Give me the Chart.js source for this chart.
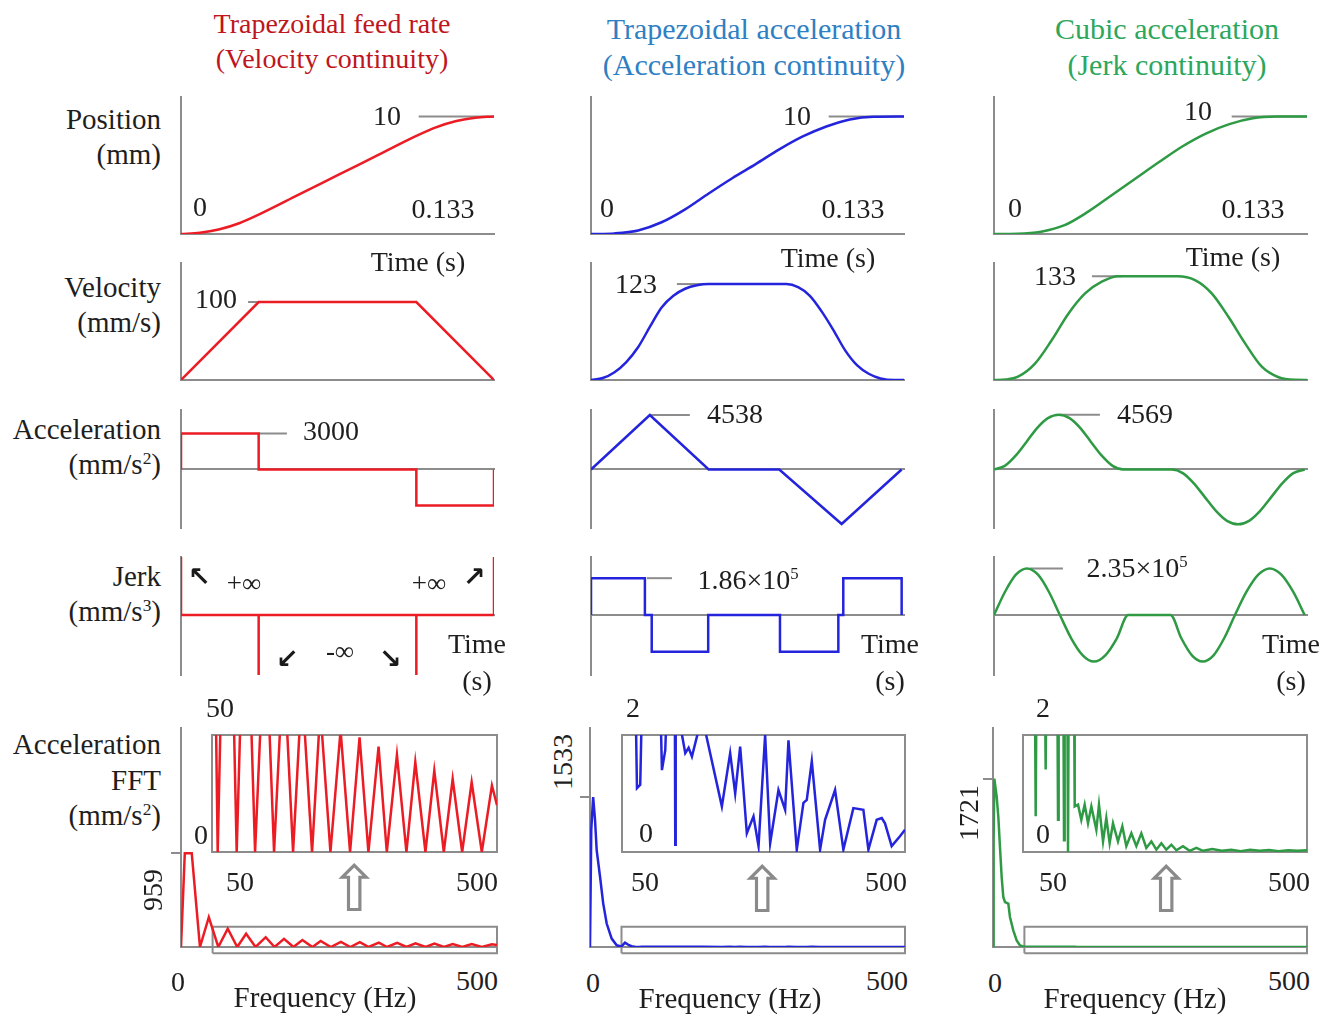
<!DOCTYPE html>
<html>
<head>
<meta charset="utf-8">
<title>Feed rate profiles</title>
<script src="https://cdn.jsdelivr.net/npm/chart.js@4.4.1/dist/chart.umd.min.js"></script>
<style>
  html, body { margin:0; padding:0; background:#ffffff; }
  #stage { position:relative; width:1334px; height:1015px; overflow:hidden; font-family:"Liberation Serif","Times New Roman",serif; color:#1e1e1e; }
  #stage canvas { position:absolute; }
  .lbl { position:absolute; white-space:nowrap; line-height:1; font-size:28px; }
  .sup { font-size:0.6em; position:relative; top:-0.6em; }
  .sym { font-family:"DejaVu Sans", sans-serif; }
  .bold { font-weight:bold; }
</style>
</head>
<body>
<div id="stage"></div>
<script>
// ================= DATA =================
const T_END = 0.133;                 // s
const posMax = 10;                   // mm
const velPeak = [100, 123, 133];     // mm/s
const accPeak = [3000, 4538, 4569];  // mm/s^2
const jerkPeak = [null, 186000, 235000];
const fftPeak = [959, 1533, 1721];
const insetMax = [50, 2, 2];
const fftRange = [0, 500];
const insetRange = [50, 500];
const zoomBoxF = [50, 500];
const zoomBoxA = [-64, 208];

// leader-line spans (time, s)
const posLeadT = [0.101, 0.133];
const velLeadT = [[0.0285, 0.033], [0.0365, 0.0476], [0.0416, 0.0544]];
const accLeadT = [[0.033, 0.045], [0.025, 0.042], [0.028, 0.045]];
const jerkLeadT = [null, [0.0238, 0.0344], [0.0153, 0.0293]];

// ---- Trapezoidal feed rate (red)
const redPosT = [0, 0.008, 0.016, 0.025, 0.033, 0.05, 0.067, 0.083, 0.1, 0.108, 0.117, 0.125, 0.133];
const redPosV = [0, 0.1, 0.38, 0.94, 1.65, 3.35, 5.05, 6.65, 8.35, 9.06, 9.62, 9.9, 10];
const redVelT = [0, 0.033, 0.1, 0.133];
const redVelV = [0, 100, 100, 0];
const redAccT = [0, 0, 0.033, 0.033, 0.1, 0.1, 0.133, 0.133];
const redAccV = [0, 3000, 3000, 0, 0, -3000, -3000, 0];
const JERK_INF = 1e7; // off-scale (infinite) jerk spikes
const redJerkT = [0, 0, 0.033, 0.033, 0.033, 0.1, 0.1, 0.1, 0.133, 0.133];
const redJerkV = [JERK_INF, 0, 0, -JERK_INF, 0, 0, -JERK_INF, 0, 0, JERK_INF];
const redFftF = [0, 6, 17, 30, 44, 59, 74, 89, 103, 118, 134, 148, 163, 178, 192, 208, 221, 237, 253, 268, 283, 297, 313, 326, 342, 357, 371, 387, 401, 416, 430, 445, 460, 476, 492, 500];
const redFftA = [0, 959, 959, 0, 305, 0, 187, 0, 135, 0, 100, 0, 83, 0, 71, 0, 61, 0, 52, 0, 49, 0, 45, 0, 41.5, 0, 38.4, 0, 34.8, 0, 31.2, 0, 29.8, 0, 28.4, 20];

// ---- Trapezoidal acceleration (blue)
const bluePosT = [0, 0.01, 0.02, 0.03, 0.04, 0.05, 0.06, 0.07, 0.08, 0.09, 0.1, 0.11, 0.12, 0.133];
const bluePosV = [0, 0.05, 0.3, 1.0, 2.1, 3.45, 4.75, 5.95, 7.2, 8.3, 9.15, 9.75, 9.98, 10];
const blueVelT = [0, 0.005, 0.01, 0.015, 0.02, 0.025, 0.03, 0.035, 0.04, 0.045, 0.05, 0.083, 0.088, 0.093, 0.098, 0.103, 0.108, 0.113, 0.118, 0.123, 0.129, 0.133];
const blueVelV = [0, 2.5, 10, 23, 42, 68, 93, 108, 117, 121.5, 123, 123, 119, 108, 88, 64, 38, 19, 8, 2, 0, 0];
const blueAccT = [0, 0.025, 0.05, 0.08, 0.1065, 0.132];
const blueAccV = [0, 4538, 0, 0, -4538, 0];
const blueJerkT = [0, 0, 0.0229, 0.0229, 0.0258, 0.0258, 0.0498, 0.0498, 0.0803, 0.0803, 0.1051, 0.1051, 0.1072, 0.1072, 0.132, 0.132];
const blueJerkV = [0, 186000, 186000, 0, 0, -186000, -186000, 0, 0, -186000, -186000, 0, 0, 186000, 186000, 0];
const blueFftF = [0, 2, 5, 8, 10.6, 16, 21, 26.5, 34.4, 42.4, 50, 55.6, 62, 66, 71, 73.8, 79, 81.8, 110.9, 113.5, 118.8, 121.5, 134, 134.7, 135.4, 150.6, 155.9, 161.2, 174.4, 179.7, 208.8, 222, 230, 237.9, 248.5, 259.1, 267.1, 277.6, 285.6, 298.8, 309.4, 314.7, 327.9, 338.5, 343.8, 351.8, 365, 372.9, 388.8, 402, 417.9, 433.8, 441.8, 455, 463, 468.2, 478.8, 492, 500];
const blueFftA = [0, 1200, 1533, 1297, 990, 716, 444, 240, 86, 17, 6, 45, 18, 8, 3, 1.09, 1.15, 2.6, 2.6, 1.4, 1.74, 2.6, 2.6, 0.125, 2.6, 1.69, 1.78, 1.63, 2.2, 2.2, 0.78, 1.69, 1.0, 1.8, 0.32, 0.61, 0.1, 2.0, 0.15, 1.06, 0.72, 1.91, 0.04, 0.84, 0.89, 1.55, 0.04, 0.55, 1.06, 0.04, 0.75, 0.72, 0.04, 0.55, 0.58, 0.49, 0.1, 0.27, 0.38];

// ---- Cubic acceleration (green)
const greenPosT = [0, 0.01, 0.02, 0.03, 0.04, 0.05, 0.06, 0.07, 0.08, 0.09, 0.1, 0.11, 0.12, 0.133];
const greenPosV = [0, 0.02, 0.2, 0.75, 1.9, 3.3, 4.7, 6.1, 7.45, 8.55, 9.35, 9.85, 9.99, 10];
const greenVelT = [0, 0.005, 0.0102, 0.0174, 0.0245, 0.0316, 0.0387, 0.0458, 0.0528, 0.078, 0.0854, 0.0925, 0.0996, 0.1067, 0.1138, 0.1209, 0.128, 0.133];
const greenVelV = [0, 0.6, 4.2, 21, 51, 85, 111, 126, 133, 133, 128, 111, 81, 47, 17, 3.5, 0.2, 0];
const greenAccT = [0, 0.0046, 0.0092, 0.0138, 0.0183, 0.0229, 0.0275, 0.0321, 0.0367, 0.0412, 0.0458, 0.0504, 0.055, 0.0755, 0.0802, 0.0849, 0.0896, 0.0943, 0.099, 0.1037, 0.1084, 0.1131, 0.1178, 0.1225, 0.1272, 0.132];
const greenAccV = [0, 300, 1150, 2300, 3450, 4280, 4569, 4280, 3450, 2300, 1150, 300, 0, 0, -300, -1150, -2300, -3450, -4280, -4569, -4280, -3450, -2300, -1150, -300, 0];
const greenJerkT = [0, 0.0047, 0.0093, 0.014, 0.0187, 0.0233, 0.028, 0.0328, 0.0377, 0.0425, 0.0473, 0.0522, 0.057, 0.075, 0.0796, 0.0841, 0.0887, 0.0933, 0.0978, 0.1024, 0.1073, 0.1123, 0.1172, 0.1221, 0.1271, 0.132];
const greenJerkV = [0, 117500, 203500, 235000, 203500, 117500, 0, -117500, -203500, -235000, -203500, -117500, 0, 0, -117500, -203500, -235000, -203500, -117500, 0, 117500, 203500, 235000, 203500, 117500, 0];
const greenFftF = [0, 1, 2.1, 5.9, 8.5, 11.1, 13.8, 16.4, 19.1, 24.4, 27, 32.3, 37.7, 43, 48.3, 60, 69, 70.1, 71.2, 85, 85.9, 86.8, 104.5, 105.5, 106.5, 114, 115, 116, 120.3, 121.3, 122.3, 131, 131.9, 137.2, 142.4, 147.7, 153, 158.3, 166.2, 170.4, 176.8, 182, 187.3, 192.6, 200.5, 207.4, 213.7, 221.7, 229.6, 237.5, 245.4, 253.4, 261.3, 269.2, 277.1, 285.1, 293, 303.5, 314.1, 324.7, 335.2, 350, 365, 380, 395, 410, 425, 440, 455, 470, 485, 500];
const greenFftA = [0, 1100, 1721, 1535, 1330, 1023, 716, 512, 460, 443, 307, 171, 68, 17, 5, 3, 2.6, 0.61, 2.6, 2.6, 1.41, 2.6, 2.6, 0.55, 2.6, 2.6, 0.2, 2.6, 2.6, 0, 2.6, 2.6, 0.78, 0.81, 0.55, 0.81, 0.49, 0.78, 0.38, 0.81, 0.18, 0.58, 0.15, 0.49, 0.18, 0.44, 0.1, 0.32, 0.1, 0.32, 0.07, 0.18, 0.04, 0.15, 0.04, 0.125, 0.03, 0.1, 0.02, 0.07, 0.02, 0.05, 0.02, 0.04, 0.015, 0.04, 0.02, 0.035, 0.015, 0.03, 0.02, 0.03];

// ================= STYLE / LAYOUT =================
const AXIS = '#8c8c8c';
const LINE = ['#ec1c24', '#2424dc', '#2f9a44'];
const TITLE = ['#bf1520', '#2e80c3', '#2ca75c'];
const LW = 2.5;
const PAD = 12;
const stage = document.getElementById('stage');

const colX = [181, 591, 994];
const colW = 313;
const rows = {
  pos:  {t: 97,  h: 137, min: 0, max: 11.66, zero: false},
  vel:  {t: 263, h: 117, min: 0, max: 150, zero: false},
  acc:  {t: 410, h: 118, min: -4875, max: 4958, zero: true},
  jerk: {t: 557, h: 118, min: -303000, max: 293000, zero: true}
};
const fftArea = [{l:181, w:316}, {l:590, w:315}, {l:993, w:314}];
const fftRow = {t: 728, h: 219, max: 2240};
const insetArea = [{l:212, w:285}, {l:622, w:283}, {l:1023, w:284}];
const insetRow = {t: 735, h: 117};

const series = [
  {pos:[redPosT, redPosV], vel:[redVelT, redVelV], acc:[redAccT, redAccV], jerk:[redJerkT, redJerkV], fft:[redFftF, redFftA], smooth:{pos:true, vel:false, acc:false, jerk:false}},
  {pos:[bluePosT, bluePosV], vel:[blueVelT, blueVelV], acc:[blueAccT, blueAccV], jerk:[blueJerkT, blueJerkV], fft:[blueFftF, blueFftA], smooth:{pos:true, vel:true, acc:false, jerk:false}},
  {pos:[greenPosT, greenPosV], vel:[greenVelT, greenVelV], acc:[greenAccT, greenAccV], jerk:[greenJerkT, greenJerkV], fft:[greenFftF, greenFftA], smooth:{pos:true, vel:true, acc:true, jerk:true}}
];

// ================= HELPERS =================
function xy(T, V) { return T.map((t, i) => ({x: t, y: V[i]})); }
function curve(T, V, color, smooth) {
  return {data: xy(T, V), borderColor: color, borderWidth: LW, pointRadius: 0, fill: false, tension: 0,
          cubicInterpolationMode: smooth ? 'monotone' : 'default', order: 0};
}
function guide(T, V, extra) {
  return Object.assign({data: xy(T, V), borderColor: AXIS, borderWidth: 2, pointRadius: 0, fill: false, tension: 0, order: 1}, extra || {});
}
function ax(extra) {
  return Object.assign({type: 'linear', ticks: {display: false}, grid: {display: false, drawTicks: false},
                        border: {display: true, color: AXIS, width: 2}}, extra);
}
function chartAt(area, datasets, scales, padLeft) {
  const cv = document.createElement('canvas');
  const W = area.w + 2 * PAD, H = area.h + 2 * PAD;
  cv.width = W; cv.height = H;
  Object.assign(cv.style, {left: (area.l - PAD) + 'px', top: (area.t - PAD) + 'px', width: W + 'px', height: H + 'px'});
  stage.appendChild(cv);
  return new Chart(cv, {
    type: 'line',
    data: {datasets},
    options: {
      responsive: false, animation: false, devicePixelRatio: 1, events: [],
      layout: {padding: {left: padLeft == null ? PAD : padLeft, right: PAD, top: PAD, bottom: PAD}},
      plugins: {legend: {display: false}, tooltip: {enabled: false}},
      scales
    }
  });
}
function label(html, x, y, o) {
  o = o || {};
  const d = document.createElement('div');
  d.className = 'lbl' + (o.cls ? ' ' + o.cls : '');
  d.innerHTML = html;
  d.style.left = x + 'px'; d.style.top = y + 'px';
  const axp = o.align === 'right' ? '-100%' : (o.align === 'left' ? '0' : '-50%');
  let tr = 'translate(' + axp + ',-50%)';
  if (o.rot) tr += ' rotate(' + o.rot + 'deg)';
  if (o.sx) tr += ' scaleX(' + o.sx + ')';
  d.style.transform = tr;
  if (o.size) d.style.fontSize = o.size + 'px';
  if (o.color) d.style.color = o.color;
  stage.appendChild(d);
}
const sci = v => (v / 1e5).toFixed(2) + '×10<span class="sup">5</span>';

// ================= TIME-DOMAIN PANELS =================
['pos', 'vel', 'acc', 'jerk'].forEach(key => {
  const r = rows[key];
  for (let c = 0; c < 3; c++) {
    const s = series[c];
    const ds = [curve(s[key][0], s[key][1], LINE[c], s.smooth[key])];
    if (key === 'pos') ds.push(guide(posLeadT, [posMax, posMax]));
    if (key === 'vel') ds.push(guide(velLeadT[c], [velPeak[c], velPeak[c]]));
    if (key === 'acc') ds.push(guide(accLeadT[c], [accPeak[c], accPeak[c]]));
    if (key === 'jerk' && jerkLeadT[c]) ds.push(guide(jerkLeadT[c], [jerkPeak[c], jerkPeak[c]]));
    chartAt({l: colX[c], t: r.t, w: colW, h: r.h}, ds, {
      x: ax({min: 0, max: T_END, position: r.zero ? {y: 0} : 'bottom'}),
      y: ax({min: r.min, max: r.max, position: 'left'})
    });
  }
});

// ================= FFT PANELS =================
for (let c = 0; c < 3; c++) {
  const s = series[c];
  const box = guide([zoomBoxF[0], zoomBoxF[1], zoomBoxF[1], zoomBoxF[0], zoomBoxF[0]],
                    [zoomBoxA[0], zoomBoxA[0], zoomBoxA[1], zoomBoxA[1], zoomBoxA[0]], {clip: false, order: 2});
  const peak = fftPeak[c];
  chartAt({l: fftArea[c].l, t: fftRow.t, w: fftArea[c].w, h: fftRow.h},
    [curve(s.fft[0], s.fft[1], LINE[c], false), box], {
      x: ax({min: fftRange[0], max: fftRange[1], position: 'bottom'}),
      y: ax({min: 0, max: fftRow.max, position: 'left',
             grid: {display: true, drawOnChartArea: false, drawTicks: true, tickLength: 10, color: AXIS, lineWidth: 2},
             afterBuildTicks: sc => { sc.ticks = [{value: peak}]; }})
    }, PAD - 10);
  // zoomed inset
  chartAt({l: insetArea[c].l, t: insetRow.t, w: insetArea[c].w, h: insetRow.h},
    [curve(s.fft[0], s.fft[1], LINE[c], false)], {
      x: ax({min: insetRange[0], max: insetRange[1], position: 'bottom'}),
      xTop: ax({min: insetRange[0], max: insetRange[1], position: 'top'}),
      y: ax({min: 0, max: insetMax[c], position: 'left'}),
      yRight: ax({min: 0, max: insetMax[c], position: 'right'})
    });
}

// ================= TEXT =================
// column titles
label('Trapezoidal feed rate', 332, 24, {size: 28, color: TITLE[0]});
label('(Velocity continuity)', 332, 59, {size: 28, color: TITLE[0]});
label('Trapezoidal acceleration', 754, 29, {size: 30, color: TITLE[1]});
label('(Acceleration continuity)', 754, 65, {size: 30, color: TITLE[1]});
label('Cubic acceleration', 1167, 29, {size: 30, color: TITLE[2]});
label('(Jerk continuity)', 1167, 65, {size: 30, color: TITLE[2]});

// row labels
const RL = 161;
[['Position', 119], ['(mm)', 154], ['Velocity', 287], ['(mm/s)', 322],
 ['Acceleration', 429], ['(mm/s<span class="sup">2</span>)', 464],
 ['Jerk', 576], ['(mm/s<span class="sup">3</span>)', 611],
 ['Acceleration', 744], ['FFT', 780], ['(mm/s<span class="sup">2</span>)', 815]]
  .forEach(([t, y]) => label(t, RL, y, {align: 'right', size: 29}));

// position row
const posLbl = [[387,116,200,207,443,209,418,262],[797,116,607,208,853,209,828,258],[1198,111,1015,208,1253,209,1233,257]];
posLbl.forEach(p => {
  label(String(posMax), p[0], p[1]);
  label('0', p[2], p[3]);
  label(String(T_END), p[4], p[5]);
  label('Time (s)', p[6], p[7]);
});
// velocity / acceleration / jerk peaks
[[216,299],[636,284],[1055,276]].forEach((p, c) => label(String(velPeak[c]), p[0], p[1]));
[[331,431],[735,414],[1145,414]].forEach((p, c) => label(String(accPeak[c]), p[0], p[1]));
label(sci(jerkPeak[1]), 748, 580);
label(sci(jerkPeak[2]), 1137, 568);
// jerk time labels
[477, 890, 1291].forEach(x => { label('Time', x, 644); label('(s)', x, 681); });
// infinite jerk marks (red)
label('+∞', 244, 583, {size: 27});
label('+∞', 429, 583, {size: 27});
label('-∞', 340, 651, {size: 27});
label('↖', 199, 576, {cls: 'sym bold', size: 27, color: '#1a1a1a'});
label('↗', 474, 576, {cls: 'sym bold', size: 27, color: '#1a1a1a'});
label('↙', 287, 658, {cls: 'sym bold', size: 27, color: '#1a1a1a'});
label('↘', 390, 658, {cls: 'sym bold', size: 27, color: '#1a1a1a'});

// FFT labels
const fftLbl = [
  {top:[220,708], zero:[201,835], l50:[240,882], r500:[477,882], peak:[153,890], x0:[178,982], x500:[477,981], xt:[325,997], arrow:[354,889]},
  {top:[633,708], zero:[646,833], l50:[645,882], r500:[886,882], peak:[563,762], x0:[593,983], x500:[887,981], xt:[730,998], arrow:[762,890]},
  {top:[1043,708], zero:[1043,834], l50:[1053,882], r500:[1289,882], peak:[969,813], x0:[995,983], x500:[1289,981], xt:[1135,998], arrow:[1166,890]}
];
fftLbl.forEach((p, c) => {
  label(String(insetMax[c]), p.top[0], p.top[1]);
  label('0', p.zero[0], p.zero[1]);
  label(String(insetRange[0]), p.l50[0], p.l50[1]);
  label(String(insetRange[1]), p.r500[0], p.r500[1]);
  label(String(fftPeak[c]), p.peak[0], p.peak[1], {rot: -90});
  label(String(fftRange[0]), p.x0[0], p.x0[1]);
  label(String(fftRange[1]), p.x500[0], p.x500[1]);
  label('Frequency (Hz)', p.xt[0], p.xt[1], {size: 29});
  label('⇧', p.arrow[0], p.arrow[1], {cls: 'sym', size: 64, color: '#8a8a8a', sx: 1.0});
});
</script>
</body>
</html>
